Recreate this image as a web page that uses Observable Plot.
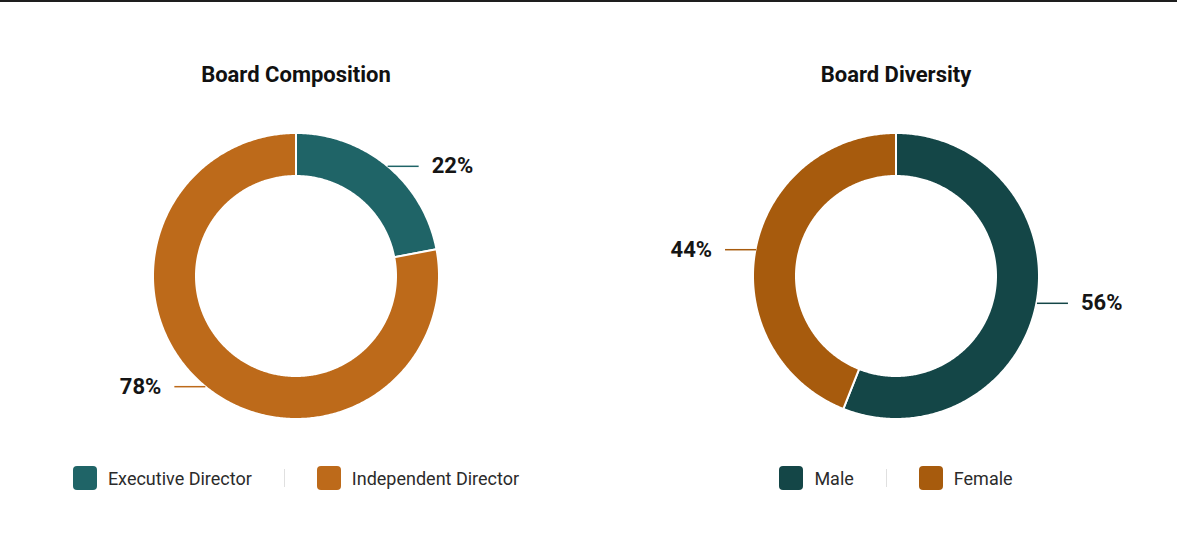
<!DOCTYPE html>
<html>
<head>
<meta charset="utf-8">
<script src="https://cdn.jsdelivr.net/npm/d3@7"></script>
<script src="https://cdn.jsdelivr.net/npm/@observablehq/plot@0.6"></script>
<style>
  html, body { margin: 0; padding: 0; background: #fff; }
  body { width: 1177px; height: 546px; position: relative; overflow: hidden; font-family: Roboto, "Noto Sans", sans-serif; }
  .topline { position: absolute; left: 0; top: 0; width: 1177px; height: 2px; background: #1e1e1e; }
  .panel { position: absolute; top: 0; width: 592px; height: 546px; }
  .title { position: absolute; top: 60px; left: 0; width: 592px; text-align: center; font-weight: 700; font-size: 22px; color: #111; line-height: 30px; }
  .chart { position: absolute; top: 126px; left: 0; }
  .legend { position: absolute; top: 466px; left: 0; width: 592px; display: flex; justify-content: center; align-items: center; height: 24px; }
  .item { display: flex; align-items: center; }
  .sw { width: 24px; height: 24px; border-radius: 4px; margin-right: 11px; }
  .lab { font-size: 18px; color: #2b2b2b; }
  .sep { width: 1px; height: 18px; background: #e0e0e0; margin: 0 32px; }
</style>
</head>
<body>
<div class="topline"></div>
<script>
// ---- data ----
const compTitle = "Board Composition";
const compCategories = ["Executive Director", "Independent Director"];
const compValues = [22, 78];
const compColors = ["#1F6467", "#BD6A1A"];

const divTitle = "Board Diversity";
const divCategories = ["Male", "Female"];
const divValues = [56, 44];
const divColors = ["#144647", "#A75B0D"];

// ---- drawing ----
function donut(title, categories, values, colors, left) {
  const W = 592, H = 300, R = 143, r = 100;
  const total = d3.sum(values);
  let acc = 0;
  const slices = categories.map((c, i) => {
    const a0 = acc / total * 2 * Math.PI;
    acc += values[i];
    const a1 = acc / total * 2 * Math.PI;
    return {key: c, value: values[i], a0, a1, am: (a0 + a1) / 2};
  });
  const pts = [];
  for (const s of slices) {
    const n = Math.max(8, Math.ceil((s.a1 - s.a0) / 0.01));
    for (let k = 0; k <= n; k++) {
      const a = s.a0 + (s.a1 - s.a0) * k / n;
      pts.push({key: s.key, xi: r * Math.sin(a), yi: r * Math.cos(a), xo: R * Math.sin(a), yo: R * Math.cos(a)});
    }
  }
  const L = 31, G = 13;
  const labels = slices.map(s => {
    const x1 = R * Math.sin(s.am), y = R * Math.cos(s.am);
    const right = x1 >= 0;
    return {key: s.key, text: s.value + "%", x1, y, x2: x1 + (right ? L : -L), xt: x1 + (right ? L + G : -(L + G)), right};
  });

  const plot = Plot.plot({
    width: W, height: H,
    margin: 0,
    x: {domain: [-W / 2, W / 2], axis: null},
    y: {domain: [-H / 2, H / 2], axis: null},
    color: {domain: categories, range: colors},
    style: {fontFamily: "Roboto, sans-serif", background: "transparent", overflow: "visible"},
    marks: [
      Plot.area(pts, {x1: "xi", y1: "yi", x2: "xo", y2: "yo", z: "key", fill: "key", stroke: "white", strokeWidth: 2, curve: "linear"}),
      Plot.link(labels, {x1: "x1", y1: "y", x2: "x2", y2: "y", stroke: "key", strokeWidth: 1.5}),
      Plot.text(labels.filter(d => d.right), {x: "xt", y: "y", text: "text", textAnchor: "start", fontWeight: "bold", fontSize: 22, fill: "#151515"}),
      Plot.text(labels.filter(d => !d.right), {x: "xt", y: "y", text: "text", textAnchor: "end", fontWeight: "bold", fontSize: 22, fill: "#151515"})
    ]
  });

  const panel = document.createElement("div");
  panel.className = "panel";
  panel.style.left = left + "px";
  const t = document.createElement("div");
  t.className = "title";
  t.textContent = title;
  panel.appendChild(t);
  const c = document.createElement("div");
  c.className = "chart";
  c.appendChild(plot);
  panel.appendChild(c);
  const lg = document.createElement("div");
  lg.className = "legend";
  categories.forEach((cat, i) => {
    if (i > 0) { const sp = document.createElement("div"); sp.className = "sep"; lg.appendChild(sp); }
    const it = document.createElement("div");
    it.className = "item";
    const sw = document.createElement("div");
    sw.className = "sw";
    sw.style.background = colors[i];
    const lb = document.createElement("span");
    lb.className = "lab";
    lb.textContent = cat;
    it.appendChild(sw); it.appendChild(lb);
    lg.appendChild(it);
  });
  panel.appendChild(lg);
  document.body.appendChild(panel);
}

donut(compTitle, compCategories, compValues, compColors, 0);
donut(divTitle, divCategories, divValues, divColors, 600);
</script>
</body>
</html>
